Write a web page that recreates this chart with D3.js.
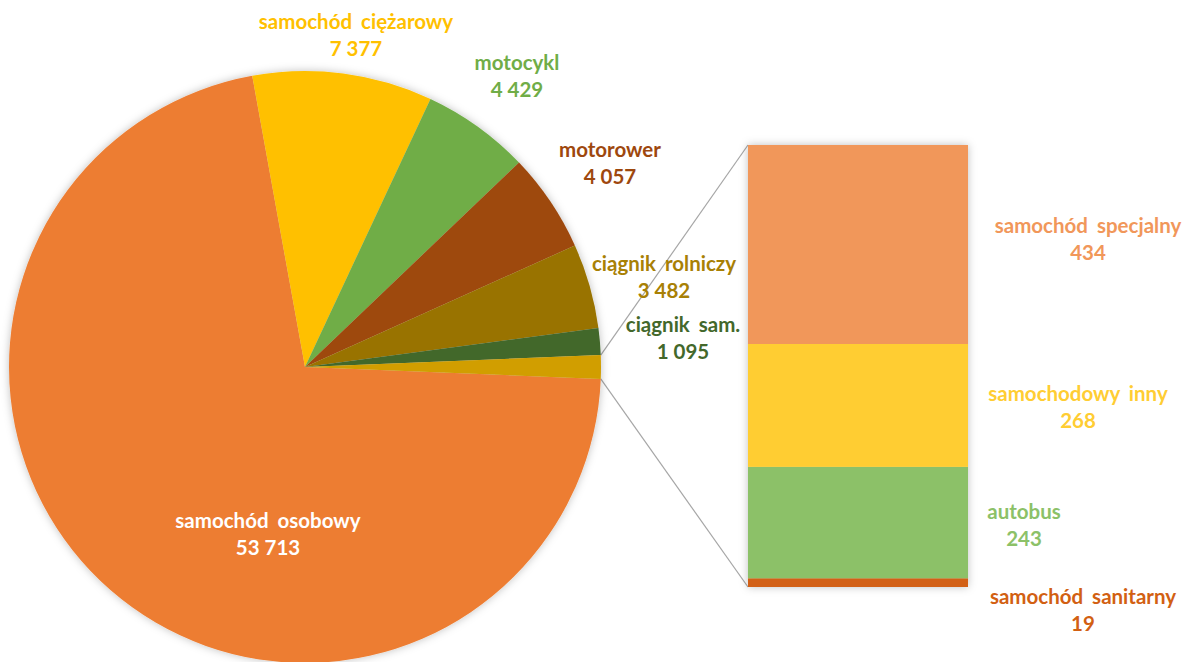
<!DOCTYPE html>
<html lang="pl">
<head>
<meta charset="utf-8">
<style>
  body { margin: 0; background: #fff; }
  svg { display: block; }
  .lbl { font-family: Lato, "Open Sans", sans-serif; font-weight: 700; font-size: 20.5px; }
  .nm { word-spacing: 4px; }
</style>
</head>
<body>
<svg width="1195" height="662"></svg>
<script src="https://cdnjs.cloudflare.com/ajax/libs/d3/7.8.5/d3.min.js"></script>
<script>
// pie slices (clockwise, starting right after the "other" slice)
var pieNames  = ["samochód osobowy", "samochód ciężarowy", "motocykl", "motorower", "ciągnik rolniczy", "ciągnik sam.", "pozostałe"];
var pieValues = [53713, 7377, 4429, 4057, 3482, 1095, 0];
var pieColors = ["#ED7D31", "#FFC000", "#70AD47", "#9E480E", "#997300", "#43682B", "#D19E00"];
var pieText   = ["#FFFFFF", "#FFC000", "#70AD47", "#9E480E", "#A88005", "#43682B", null];

// breakdown of the "other" slice, bottom to top
var barNames  = ["samochód sanitarny", "autobus", "samochodowy inny", "samochód specjalny"];
var barValues = [19, 243, 268, 434];
var barColors = ["#D26012", "#8CC168", "#FFCD33", "#F1975A"];

pieValues[6] = d3.sum(barValues);

// label anchor positions (centre of the first text line)
var pieLabelPos = [[268, 521], [356, 22], [517, 63], [610, 150], [664, 264], [683, 325]];
var barLabelPos = [[1083, 597], [1024, 512], [1078, 394], [1088, 226]];

var fmt = function (v) { return d3.format(",")(v).replace(/,/g, " "); };

var svg = d3.select("svg");
var defs = svg.append("defs");
var f = defs.append("filter").attr("id", "shadow")
    .attr("x", "-10%").attr("y", "-10%").attr("width", "120%").attr("height", "120%");
f.append("feDropShadow").attr("dx", 0).attr("dy", 0).attr("stdDeviation", 4)
    .attr("flood-color", "#000").attr("flood-opacity", 0.25);

var cx = 305, cy = 367, r = 296;
var total = d3.sum(pieValues);
var otherA = pieValues[6] / total * 2 * Math.PI;
var a0 = Math.PI / 2 + otherA / 2;

var pie = d3.pie().sort(null).startAngle(a0).endAngle(a0 + 2 * Math.PI);
var arcs = pie(pieValues);
var arc = d3.arc().innerRadius(0).outerRadius(r);

// connector lines
var bx0 = 748, bx1 = 968;
var y = d3.scaleLinear().domain([0, pieValues[6]]).range([587, 145]);
var aTop = a0 + 2 * Math.PI - otherA, aBot = a0 + 2 * Math.PI;
var pt = function (a) { return [cx + r * Math.sin(a), cy - r * Math.cos(a)]; };
svg.append("line").attr("x1", pt(aTop)[0]).attr("y1", pt(aTop)[1])
    .attr("x2", bx0).attr("y2", y(pieValues[6]))
    .attr("stroke", "#A6A6A6").attr("stroke-width", 1.2);
svg.append("line").attr("x1", pt(aBot)[0]).attr("y1", pt(aBot)[1])
    .attr("x2", bx0).attr("y2", y(0))
    .attr("stroke", "#A6A6A6").attr("stroke-width", 1.2);

var g = svg.append("g").attr("transform", "translate(" + cx + "," + cy + ")")
    .attr("filter", "url(#shadow)");
g.selectAll("path").data(arcs).enter().append("path")
    .attr("d", arc)
    .attr("fill", function (d, i) { return pieColors[i]; });

// stacked bar
var stack = [];
var acc = 0;
barValues.forEach(function (v, i) { stack.push({ y0: acc, y1: acc + v, i: i }); acc += v; });
var bg = svg.append("g").attr("filter", "url(#shadow)");
bg.selectAll("rect").data(stack).enter().append("rect")
    .attr("x", bx0).attr("width", bx1 - bx0)
    .attr("y", function (d) { return y(d.y1); })
    .attr("height", function (d) { return y(d.y0) - y(d.y1); })
    .attr("fill", function (d) { return barColors[d.i]; });

function label(x, yy, name, val, color) {
    var t = svg.append("text").attr("class", "lbl").attr("text-anchor", "middle").attr("fill", color);
    t.append("tspan").attr("class", "nm").attr("x", x).attr("y", yy + 7).text(name);
    t.append("tspan").attr("x", x).attr("y", yy + 34).text(fmt(val));
}
pieLabelPos.forEach(function (p, i) { label(p[0], p[1], pieNames[i], pieValues[i], pieText[i]); });
barLabelPos.forEach(function (p, i) { label(p[0], p[1], barNames[i], barValues[i], barColors[i]); });
</script>
</body>
</html>
